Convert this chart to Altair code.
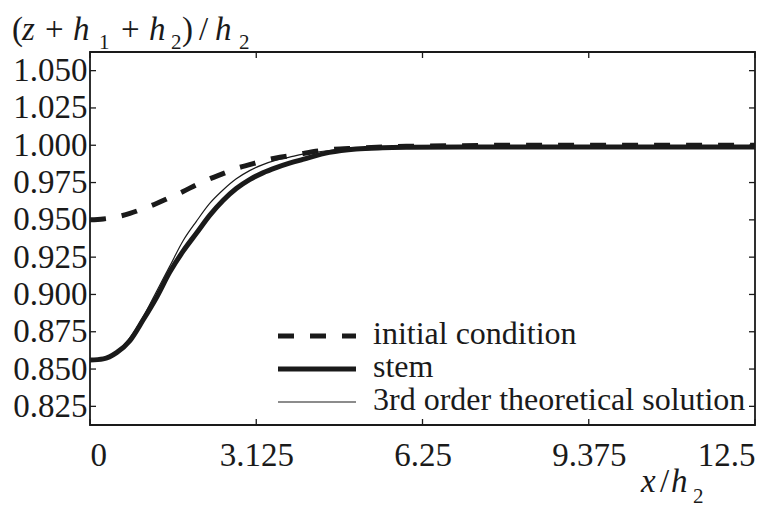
import altair as alt
import pandas as pd

# ---------------- data ----------------
x_vals = [0, 0.25, 0.5, 0.75, 1.0, 1.25, 1.5, 1.75, 2.0, 2.25, 2.5, 2.75, 3.0, 3.25,
          3.5, 3.75, 4.0, 4.5, 5.0, 5.5, 6.0, 7.0, 8.0, 9.0, 10.0, 11.0, 12.0, 12.5]
initial_condition = [0.950, 0.9506, 0.952, 0.9543, 0.9575, 0.961, 0.965, 0.969, 0.9735,
                     0.9775, 0.981, 0.9845, 0.987, 0.9895, 0.9915, 0.993, 0.9945, 0.997,
                     0.998, 0.9988, 0.9993, 0.9997, 1.0, 1.0, 1.0, 1.0, 1.0, 1.0]
stem = [0.856, 0.8568, 0.861, 0.869, 0.883, 0.898, 0.915, 0.929, 0.941, 0.953, 0.963,
        0.971, 0.977, 0.9815, 0.985, 0.988, 0.9905, 0.9952, 0.9975, 0.9983, 0.9986,
        0.9988, 0.9988, 0.9988, 0.9988, 0.9988, 0.9988, 0.9988]
theory = [0.856, 0.8568, 0.8615, 0.871, 0.885, 0.902, 0.919, 0.936, 0.949, 0.961, 0.970,
          0.9775, 0.983, 0.987, 0.990, 0.992, 0.994, 0.9965, 0.998, 0.9986, 0.999,
          0.9992, 0.9992, 0.9992, 0.9992, 0.9992, 0.9992, 0.9992]

series_names = ["initial condition", "stem", "3rd order theoretical solution"]
x_ticks = [0, 3.125, 6.25, 9.375, 12.5]
y_ticks = [0.825, 0.850, 0.875, 0.900, 0.925, 0.950, 0.975, 1.000, 1.025, 1.050]
x_domain = [0, 12.5]
y_domain = [0.8125, 1.0625]

# ---------------- layout / style ----------------
W, H = 665, 373
FONT = "Liberation Serif"
INK = "#1a1a1a"
FS = 32
LFS = 33
TICK = 6

styles = {
    "initial condition": dict(strokeWidth=5, strokeDash=[16, 16]),
    "stem": dict(strokeWidth=5),
    "3rd order theoretical solution": dict(strokeWidth=1.2),
}
series_values = {
    "initial condition": initial_condition,
    "stem": stem,
    "3rd order theoretical solution": theory,
}

xs = alt.Scale(domain=x_domain, nice=False, zero=False)
ys = alt.Scale(domain=y_domain, nice=False, zero=False)

one = pd.DataFrame({"k": [0]})

layers = []

# curves
first = True
for name in series_names:
    df = pd.DataFrame({"x": x_vals, "y": series_values[name]})
    if first:
        xenc = alt.X("x:Q", scale=xs, axis=alt.Axis(
            values=x_ticks, ticks=False, domain=False, grid=False, title=None,
            labelFont=FONT, labelFontSize=LFS, labelColor=INK, labelPadding=14,
            labelExpr="datum.value == 12.5 ? '12.5\u2007' : toString(datum.value)"))
        yenc = alt.Y("y:Q", scale=ys, axis=alt.Axis(
            values=y_ticks, format=".3f", ticks=False, domain=False, grid=False,
            title=None, labelFont=FONT, labelFontSize=LFS, labelColor=INK,
            labelPadding=3))
        first = False
    else:
        xenc = alt.X("x:Q", scale=xs)
        yenc = alt.Y("y:Q", scale=ys)
    layers.append(
        alt.Chart(df).mark_line(color=INK, interpolate="monotone", strokeCap="butt",
                                **styles[name]).encode(x=xenc, y=yenc)
    )

# inward tick marks on all four sides
ydf = pd.DataFrame({"y": y_ticks})
xdf = pd.DataFrame({"x": x_ticks})
tick_style = dict(color=INK, strokeWidth=1.3)
layers.append(alt.Chart(ydf).mark_rule(**tick_style).encode(
    y=alt.Y("y:Q", scale=ys), x=alt.value(0), x2=alt.value(TICK)))
layers.append(alt.Chart(ydf).mark_rule(**tick_style).encode(
    y=alt.Y("y:Q", scale=ys), x=alt.value(W - TICK), x2=alt.value(W)))
layers.append(alt.Chart(xdf).mark_rule(**tick_style).encode(
    x=alt.X("x:Q", scale=xs), y=alt.value(H - TICK), y2=alt.value(H)))
layers.append(alt.Chart(xdf).mark_rule(**tick_style).encode(
    x=alt.X("x:Q", scale=xs), y=alt.value(0), y2=alt.value(TICK)))

# legend (manual, inside plot, no frame)
LX0, LX1, LTX = 188, 266, 283
LY = [284, 317, 350]
for i, name in enumerate(series_names):
    layers.append(alt.Chart(one).mark_rule(color=INK, strokeCap="butt",
                                           **styles[name]).encode(
        x=alt.value(LX0), x2=alt.value(LX1), y=alt.value(LY[i])))
    layers.append(alt.Chart(one).mark_text(
        text=name, font=FONT, fontSize=FS, color=INK, align="left",
        baseline="alphabetic").encode(x=alt.value(LTX), y=alt.value(LY[i] + 8)))

# rich-text titles (pieces placed relative to plot origin)
def piece(txt, x, y, size=FS, italic=False):
    kw = dict(text=txt, font=FONT, fontSize=size, color=INK, align="left",
              baseline="alphabetic")
    if italic:
        kw["fontStyle"] = "italic"
    return alt.Chart(one).mark_text(**kw).encode(x=alt.value(x), y=alt.value(y))

OX, OY = 90, 52
tb, sb, ss = 40 - OY, 49 - OY, 21
title_pieces = [
    ("(", 12, tb, 33, False),
    ("z", 22, tb, 33, True),
    ("+", 45, tb, 33, False),
    ("h", 73, tb, 33, True),
    ("1", 99, sb, ss, False),
    ("+", 121, tb, 33, False),
    ("h", 149, tb, 33, True),
    ("2", 171, sb, ss, False),
    (")", 182, tb, 33, False),
    ("/", 199, tb, 33, False),
    ("h", 215, tb, 33, True),
    ("2", 239, sb, ss, False),
]
for t, x, y, s, it in title_pieces:
    layers.append(piece(t, x - OX, y, s, it))

xb, xsb = 492 - OY, 503 - OY
xtitle_pieces = [
    ("x", 641, xb, 33, True),
    ("/", 660, xb, 33, False),
    ("h", 671, xb, 33, True),
    ("2", 693, xsb, ss, False),
]
for t, x, y, s, it in xtitle_pieces:
    layers.append(piece(t, x - OX, y, s, it))

chart = alt.layer(*layers).properties(
    width=W, height=H,
    padding={"left": 90, "top": 52, "right": 27, "bottom": 82},
    autosize=alt.AutoSizeParams(type="none"),
    background="white",
).configure_view(stroke=INK, strokeWidth=1.8)

chart.save("out.html", embed_options={"renderer": "svg", "actions": False})
